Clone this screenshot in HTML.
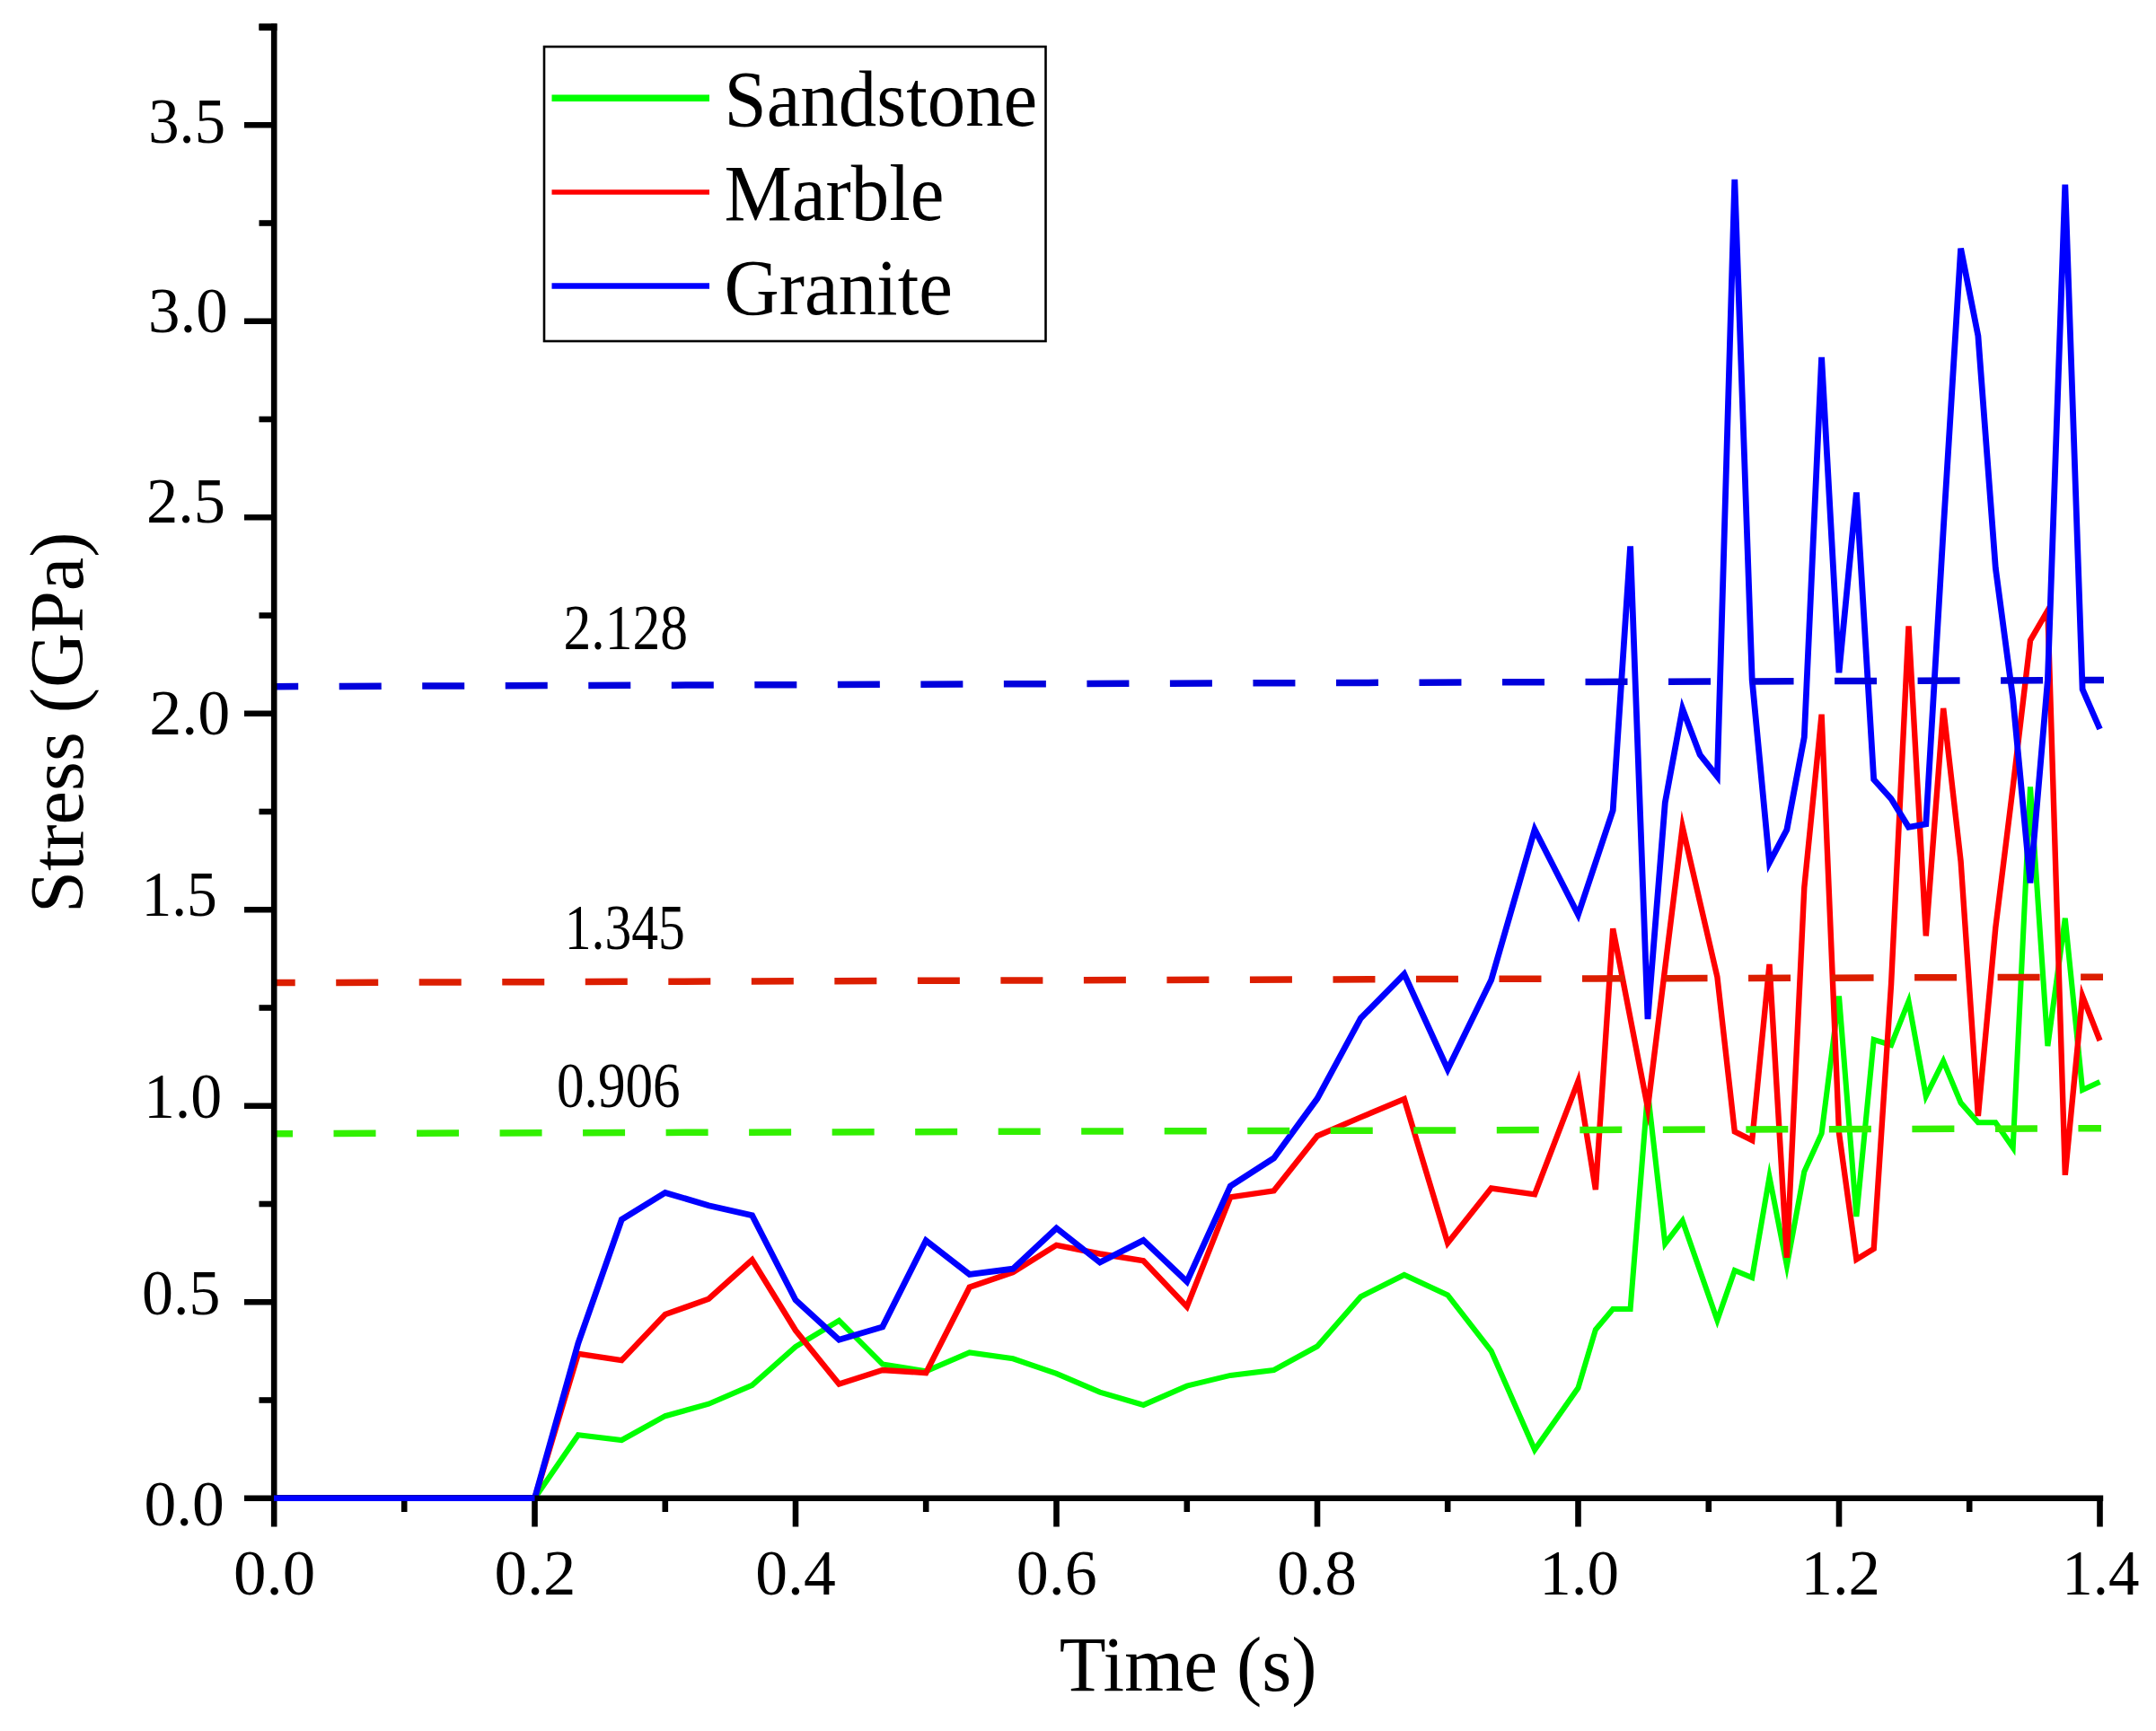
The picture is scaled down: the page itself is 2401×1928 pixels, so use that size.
<!DOCTYPE html>
<html><head><meta charset="utf-8"><title>Stress vs Time</title>
<style>html,body{margin:0;padding:0;background:#fff}svg{display:block}</style></head>
<body>
<svg width="2401" height="1928" viewBox="0 0 2401 1928">
<rect width="2401" height="1928" fill="#fff"/>
<g fill="none" stroke-linejoin="miter" stroke-miterlimit="7.0">
<polyline stroke="#00ff00" stroke-width="6.1" points="305.0,1668.7 595.5,1668.7 643.9,1598.3 692.3,1604.0 740.8,1577.2 789.2,1563.7 837.6,1542.9 886.0,1500.0 934.4,1470.9 982.8,1519.5 1031.2,1527.3 1079.7,1506.5 1128.1,1513.3 1176.5,1529.9 1224.9,1550.6 1273.3,1564.9 1321.8,1543.6 1370.2,1531.9 1418.6,1526.0 1467.0,1499.5 1515.4,1444.2 1563.8,1420.0 1612.2,1442.5 1660.7,1504.8 1709.1,1614.7 1757.5,1545.8 1776.9,1481.0 1796.2,1458.0 1815.6,1458.0 1835.0,1216.4 1854.3,1385.4 1873.7,1359.7 1912.4,1470.6 1931.8,1415.0 1951.2,1423.0 1970.5,1310.8 1989.9,1409.8 2009.3,1305.0 2028.6,1262.5 2048.0,1109.6 2067.4,1355.0 2086.7,1158.0 2106.1,1164.0 2125.5,1115.2 2144.8,1221.0 2164.2,1181.8 2183.6,1228.3 2202.9,1250.2 2222.3,1250.2 2241.7,1278.4 2261.0,876.5 2280.4,1165.1 2299.8,1022.7 2319.1,1214.0 2338.5,1205.0"/>
<polyline stroke="#ff0000" stroke-width="6.4" points="305.0,1668.7 595.5,1668.7 643.9,1507.8 692.3,1515.1 740.8,1464.1 789.2,1446.7 837.6,1403.3 886.0,1481.8 934.4,1541.6 982.8,1526.0 1031.2,1529.1 1079.7,1433.7 1128.1,1417.0 1176.5,1386.9 1224.9,1396.5 1273.3,1404.3 1321.8,1455.5 1370.2,1333.3 1418.6,1326.3 1467.0,1265.2 1515.4,1244.4 1563.8,1224.0 1612.2,1384.5 1660.7,1323.5 1709.1,1330.3 1757.5,1204.2 1776.9,1325.0 1796.2,1034.3 1835.0,1234.0 1873.7,921.0 1912.4,1088.0 1931.8,1260.4 1951.2,1270.0 1970.5,1074.0 1989.9,1400.8 2009.3,988.6 2028.6,795.7 2048.0,1262.0 2067.4,1402.8 2086.7,1391.0 2106.1,1095.8 2125.5,697.4 2144.8,1042.4 2164.2,788.9 2183.6,959.4 2202.9,1243.0 2222.3,1033.4 2241.7,876.3 2261.0,713.4 2280.4,680.0 2299.8,1308.8 2319.1,1109.4 2338.5,1159.0"/>
<polyline stroke="#0000ff" stroke-width="6.8" points="305.0,1668.7 595.5,1668.7 643.9,1496.1 692.3,1358.3 740.8,1328.4 789.2,1342.7 837.6,1353.6 886.0,1448.0 934.4,1492.2 982.8,1477.9 1031.2,1381.7 1079.7,1419.4 1128.1,1413.2 1176.5,1367.9 1224.9,1406.1 1273.3,1381.4 1321.8,1427.5 1370.2,1321.1 1418.6,1289.9 1467.0,1223.6 1515.4,1134.0 1563.8,1085.0 1612.2,1191.0 1660.7,1091.5 1709.1,924.0 1757.5,1018.7 1796.2,902.5 1815.6,608.5 1835.0,1135.1 1854.3,893.9 1873.7,789.5 1893.1,840.5 1912.4,864.8 1931.8,199.8 1951.2,757.3 1970.5,960.8 1989.9,924.0 2009.3,821.0 2028.6,397.9 2048.0,749.2 2067.4,548.5 2086.7,868.2 2106.1,889.7 2125.5,921.3 2144.8,917.9 2164.2,590.0 2183.6,276.6 2202.9,374.2 2222.3,632.5 2241.7,778.1 2261.0,983.4 2280.4,757.3 2299.8,205.6 2319.1,767.7 2338.5,812.0"/>
</g>
<g fill="none" stroke-width="7.5" stroke-dasharray="47 45.52">
<line stroke="#0000dc" x1="305.0" y1="764.7" x2="2343.0" y2="757.5" stroke-dashoffset="19.8"/>
<line stroke="#dc1e00" x1="305.0" y1="1094.6" x2="2342.0" y2="1088.2" stroke-dashoffset="23.3"/>
<line stroke="#32f000" x1="303.0" y1="1262.7" x2="2340.0" y2="1256.8" stroke-dashoffset="24.0"/>
</g>
<g stroke="#000" stroke-width="6.6" fill="none">
<line x1="305.2" y1="26.3" x2="305.2" y2="1700.5"/>
<line x1="288.5" y1="30.2" x2="308.5" y2="30.2" stroke-width="7.8"/>
<line x1="272" y1="1668.7" x2="2342.2" y2="1668.7"/>
<line x1="288.5" y1="1559.5" x2="305" y2="1559.5"/>
<line x1="272" y1="1450.2" x2="305" y2="1450.2"/>
<line x1="288.5" y1="1341.0" x2="305" y2="1341.0"/>
<line x1="272" y1="1231.7" x2="305" y2="1231.7"/>
<line x1="288.5" y1="1122.5" x2="305" y2="1122.5"/>
<line x1="272" y1="1013.2" x2="305" y2="1013.2"/>
<line x1="288.5" y1="904.0" x2="305" y2="904.0"/>
<line x1="272" y1="794.7" x2="305" y2="794.7"/>
<line x1="288.5" y1="685.5" x2="305" y2="685.5"/>
<line x1="272" y1="576.2" x2="305" y2="576.2"/>
<line x1="288.5" y1="467.0" x2="305" y2="467.0"/>
<line x1="272" y1="357.7" x2="305" y2="357.7"/>
<line x1="288.5" y1="248.5" x2="305" y2="248.5"/>
<line x1="272" y1="139.2" x2="305" y2="139.2"/>
<line x1="288.5" y1="30.0" x2="305" y2="30.0"/>
<line x1="450.2" y1="1668.7" x2="450.2" y2="1684"/>
<line x1="595.5" y1="1668.7" x2="595.5" y2="1700.5"/>
<line x1="740.8" y1="1668.7" x2="740.8" y2="1684"/>
<line x1="886.0" y1="1668.7" x2="886.0" y2="1700.5"/>
<line x1="1031.2" y1="1668.7" x2="1031.2" y2="1684"/>
<line x1="1176.5" y1="1668.7" x2="1176.5" y2="1700.5"/>
<line x1="1321.8" y1="1668.7" x2="1321.8" y2="1684"/>
<line x1="1467.0" y1="1668.7" x2="1467.0" y2="1700.5"/>
<line x1="1612.2" y1="1668.7" x2="1612.2" y2="1684"/>
<line x1="1757.5" y1="1668.7" x2="1757.5" y2="1700.5"/>
<line x1="1902.8" y1="1668.7" x2="1902.8" y2="1684"/>
<line x1="2048.0" y1="1668.7" x2="2048.0" y2="1700.5"/>
<line x1="2193.2" y1="1668.7" x2="2193.2" y2="1684"/>
<line x1="2338.5" y1="1668.7" x2="2338.5" y2="1700.5"/>
</g>
<line x1="305" y1="1668.7" x2="595.5" y2="1668.7" stroke="#0000ff" stroke-width="6.5"/>
<g font-family="'Liberation Serif', 'Times New Roman', serif" fill="#000">
<text transform="translate(165.14,159.32) scale(0.9546,1)" font-size="72.00">3.5</text>
<text transform="translate(165.03,369.52) scale(0.9847,1)" font-size="72.00">3.0</text>
<text transform="translate(163.00,581.92) scale(0.9791,1)" font-size="72.00">2.5</text>
<text transform="translate(166.14,818.02) scale(1.0007,1)" font-size="72.00">2.0</text>
<text transform="translate(157.39,1020.12) scale(0.9379,1)" font-size="72.00">1.5</text>
<text transform="translate(159.89,1244.62) scale(0.9704,1)" font-size="72.00">1.0</text>
<text transform="translate(158.08,1463.62) scale(0.9701,1)" font-size="72.00">0.5</text>
<text transform="translate(160.42,1699.22) scale(0.9941,1)" font-size="72.00">0.0</text>
<text transform="translate(259.96,1776.22) scale(1.0142,1)" font-size="72.00">0.0</text>
<text transform="translate(550.57,1776.22) scale(1.0103,1)" font-size="72.00">0.2</text>
<text transform="translate(841.21,1776.22) scale(0.9951,1)" font-size="72.00">0.4</text>
<text transform="translate(1131.70,1776.22) scale(1.0007,1)" font-size="72.00">0.6</text>
<text transform="translate(1422.35,1776.22) scale(0.9823,1)" font-size="72.00">0.8</text>
<text transform="translate(1714.28,1776.22) scale(0.9877,1)" font-size="72.00">1.0</text>
<text transform="translate(2005.51,1776.22) scale(0.9832,1)" font-size="72.00">1.2</text>
<text transform="translate(2296.16,1776.22) scale(0.9586,1)" font-size="72.00">1.4</text>
<text transform="translate(627.48,722.92) scale(0.8551,1)" font-size="72.00">2.128</text>
<text transform="translate(628.68,1057.02) scale(0.8284,1)" font-size="72.00">1.345</text>
<text transform="translate(620.01,1232.92) scale(0.8496,1)" font-size="72.00">0.906</text>
<text transform="translate(1179.71,1883.19) scale(0.9850,1)" font-size="86.17">Time (s)</text>
<text transform="translate(91.95,1016.90) rotate(-90) scale(0.9936,1)" font-size="84.96">Stress (GPa)</text>
<text transform="translate(806.5,140.3) scale(0.964,1)" font-size="88">Sandstone</text>
<text transform="translate(806.5,245.4) scale(0.964,1)" font-size="88">Marble</text>
<text transform="translate(806.5,349.6) scale(0.964,1)" font-size="88">Granite</text>
</g>
<rect x="606" y="52" width="558.5" height="328" fill="none" stroke="#000" stroke-width="2.6"/>
<g>
<line x1="614.5" y1="109.2" x2="790" y2="109.2" stroke="#00ff00" stroke-width="7.4"/>
<line x1="614.5" y1="214" x2="790" y2="214" stroke="#ff0000" stroke-width="5.6"/>
<line x1="614.5" y1="318.5" x2="790" y2="318.5" stroke="#0000ff" stroke-width="6.6"/>
</g>
</svg>
</body></html>
